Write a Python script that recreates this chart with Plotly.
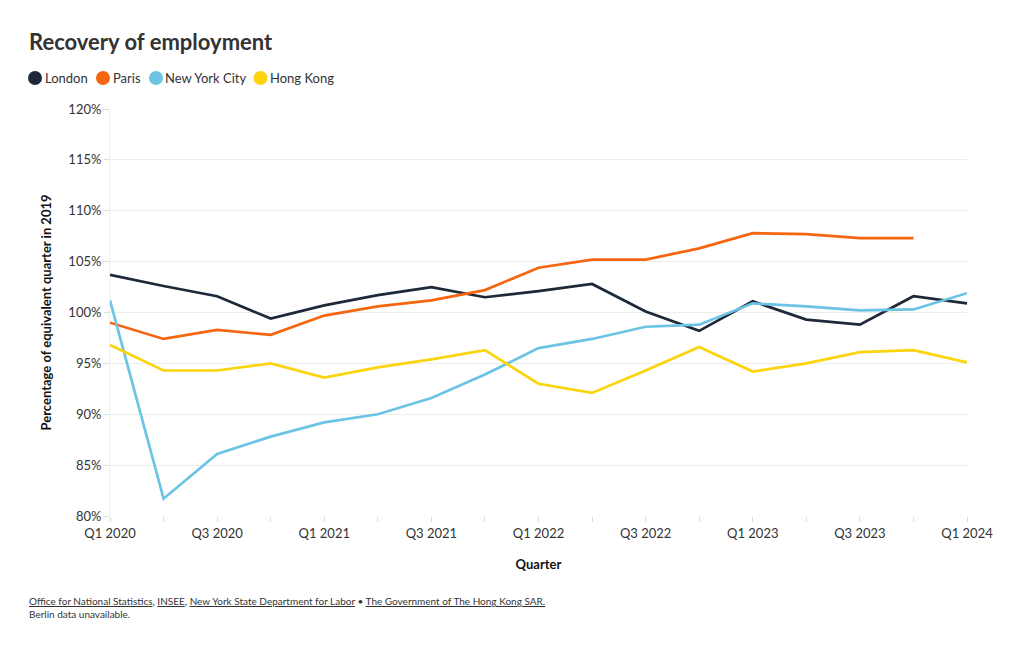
import plotly.graph_objects as go

quarters = ["Q1 2020", "Q2 2020", "Q3 2020", "Q4 2020",
            "Q1 2021", "Q2 2021", "Q3 2021", "Q4 2021",
            "Q1 2022", "Q2 2022", "Q3 2022", "Q4 2022",
            "Q1 2023", "Q2 2023", "Q3 2023", "Q4 2023",
            "Q1 2024"]
tick_labels = [q if i % 2 == 0 else "" for i, q in enumerate(quarters)]
y_ticks = [80, 85, 90, 95, 100, 105, 110, 115, 120]
y_tick_labels = [f"{v}%" for v in y_ticks]

london = [103.7, 102.6, 101.6, 99.4, 100.7, 101.7, 102.5, 101.5, 102.1, 102.8,
          100.1, 98.2, 101.1, 99.3, 98.8, 101.6, 100.9]
paris = [99.0, 97.4, 98.3, 97.8, 99.7, 100.6, 101.2, 102.2, 104.4, 105.2,
         105.2, 106.3, 107.8, 107.7, 107.3, 107.3, None]
nyc = [101.2, 81.7, 86.1, 87.8, 89.2, 90.0, 91.6, 93.9, 96.5, 97.4,
       98.6, 98.8, 100.9, 100.6, 100.2, 100.3, 101.9]
hong_kong = [96.8, 94.3, 94.3, 95.0, 93.6, 94.6, 95.4, 96.3, 93.0, 92.1,
             94.3, 96.6, 94.2, 95.0, 96.1, 96.3, 95.1]

series = [("London", london, "#1d2939"),
          ("Paris", paris, "#f6650f"),
          ("New York City", nyc, "#6cc4e4"),
          ("Hong Kong", hong_kong, "#fbd40d")]

FONT = "Lato, 'Open Sans', sans-serif"
TXT = "#333333"
fig = go.Figure()
for name, vals, col in series:
    fig.add_trace(go.Scatter(x=quarters, y=vals, name=name, mode="lines",
                             line=dict(color=col, width=2.7), showlegend=False,
                             hovertemplate="%{x}: %{y:.1f}%<extra>" + name + "</extra>"))

# plot area: left 110, right 967, top 109, bottom 516 (pixels)
fig.update_layout(
    width=1020, height=650,
    paper_bgcolor="white", plot_bgcolor="white",
    margin=dict(l=110, r=53, t=109, b=134, autoexpand=False),
    font=dict(family=FONT, size=13, color=TXT),
    showlegend=False,
    xaxis=dict(
        type="category", categoryorder="array", categoryarray=quarters,
        range=[0, 16], tickmode="array", tickvals=quarters, ticktext=tick_labels,
        ticks="outside", ticklen=5, tickcolor="#dddddd", showgrid=False,
        showline=False, zeroline=False, tickfont=dict(size=13, color=TXT),
        title=dict(text="<b>Quarter</b>", font=dict(size=13, color="#111111"), standoff=20),
    ),
    yaxis=dict(
        range=[80, 120], tickmode="array", tickvals=y_ticks, ticktext=y_tick_labels,
        ticks="outside", ticklen=5, tickcolor="#dddddd",
        showgrid=True, gridcolor="#ececec", gridwidth=1, zeroline=False,
        showline=True, linecolor="#eeeeee", linewidth=1,
        tickfont=dict(size=13, color=TXT),
        title=dict(text="<b>Percentage of equivalent quarter in 2019</b>",
                   font=dict(size=13, color="#111111"), standoff=13),
    ),
)

# title
fig.add_annotation(text="<b>Recovery of employment</b>", xref="paper", yref="paper",
                   x=0, xshift=27 - 110, xanchor="left", y=1, yshift=109 - 41,
                   yanchor="middle", showarrow=False, font=dict(size=22, color=TXT))

# custom legend (circle + label)
legend_pos = [(35, 43), (103, 111), (156, 163), (260.5, 268)]
for (name, vals, col), (cx, tx) in zip(series, legend_pos):
    fig.add_shape(type="circle", xref="paper", yref="paper",
                  xsizemode="pixel", ysizemode="pixel",
                  xanchor=0, yanchor=1,
                  x0=cx - 110 - 7, x1=cx - 110 + 7,
                  y0=109 - 78 - 7, y1=109 - 78 + 7,
                  fillcolor=col, line=dict(width=0))
    fig.add_annotation(text=name, xref="paper", yref="paper", x=0, xshift=tx - 110,
                       xanchor="left", y=1, yshift=109 - 78, yanchor="middle",
                       showarrow=False, font=dict(size=13, color=TXT))

u = lambda s: '<span style="text-decoration:underline">' + s + "</span>"
footer = (u("Office for National Statistics") + ", " + u("INSEE") + ", " +
          u("New York State Department for Labor") + " • " +
          u("The Government of The Hong Kong SAR.") + "<br>Berlin data unavailable.")
fig.add_annotation(text=footer, xref="paper", yref="paper", x=0, xshift=27 - 110,
                   xanchor="left", y=0, yshift=516 - 593, yanchor="top",
                   showarrow=False, align="left",
                   font=dict(size=10, color=TXT, family=FONT))

fig.write_html("out.html", config={"displayModeBar": False},
               post_script="document.body.style.margin='0';")
